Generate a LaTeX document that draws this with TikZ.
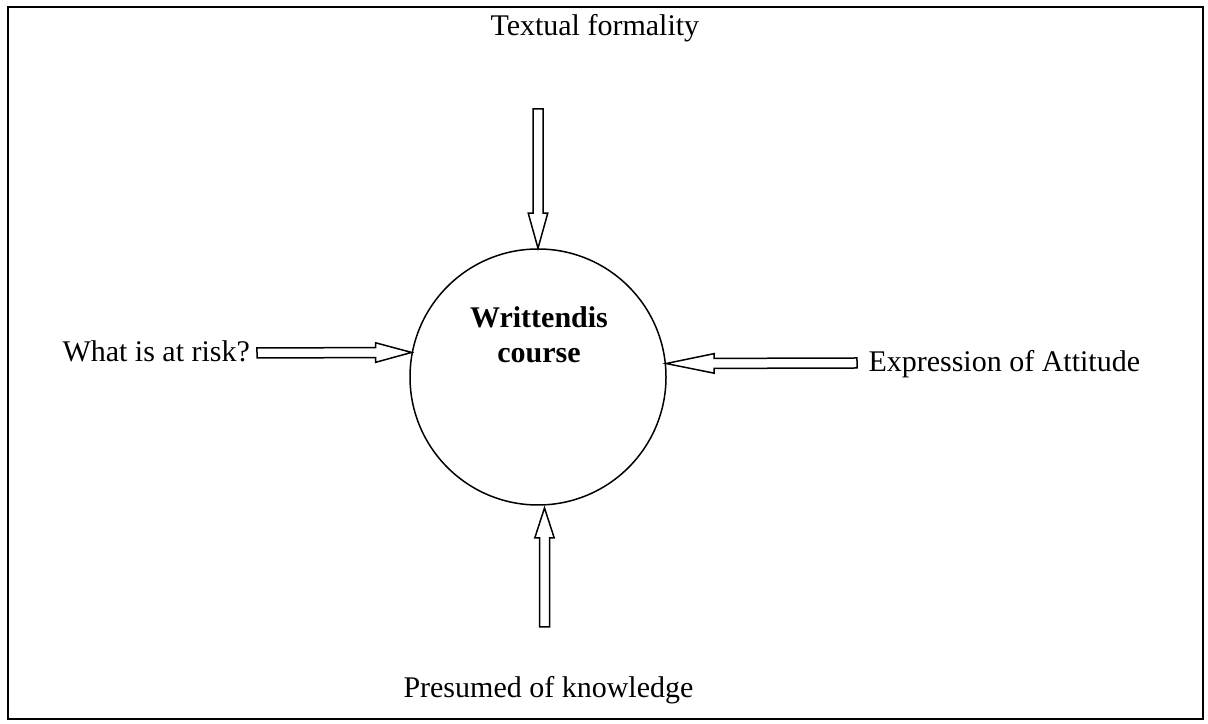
\documentclass[tikz,border=0pt]{standalone}
\usepackage{fontspec}
\setmainfont{Liberation Serif}
\usetikzlibrary{calc}
\tikzset{
	hollow/.style={draw, fill=white, line width=0.6pt, line join=miter},
	fatarrow/.style={to path={let \p1=(\tikztostart), \p2=(\tikztotarget), \n1={atan2(\y2-\y1,\x2-\x1)}, \n2={\n1+90}, \n3={\n1-90}, \n4={\n1+180} in
		($(\p1)+(\n2:2pt)$) -- ($(\p2)+(\n4:#1)+(\n2:2pt)$) -- ($(\p2)+(\n4:#1)+(\n2:3.9pt)$) -- (\p2)
		-- ($(\p2)+(\n4:#1)+(\n3:3.9pt)$) -- ($(\p2)+(\n4:#1)+(\n3:2pt)$) -- ($(\p1)+(\n3:2pt)$) -- cycle}},
	label/.style={inner sep=0pt, anchor=base west},
	title/.style={inner sep=0pt, anchor=base, font=\fontsize{12}{14}\selectfont\bfseries},
}
\begin{document}
\begin{tikzpicture}[x=0.4pt, y=-0.4pt, font=\fontsize{12}{14}\selectfont, line join=round]
	\useasboundingbox (0,0) rectangle (1208,724);
	\draw[line width=0.8pt, line join=miter] (8,7) rectangle (1203,719);
	\node[draw, circle, line width=0.6pt, minimum size=102.4pt, inner sep=0pt] (disc) at (538,377) {};
	\node[title] (wd1) at (539,328) {Writtendis};
	\node[title] (wd2) at (539,363) {course};
	\node[label] (tf) at (490,36) {Textual formality};
	\node[label] (risk) at (62,362) {What is at risk?};
	\node[label] (att) at (868,372) {Expression of Attitude};
	\node[label] (pk) at (403,698) {Presumed of knowledge};
	\coordinate (tftail) at (538,109);
	\coordinate (risktail) at (257,353);
	\coordinate (atttail) at (857,363);
	\coordinate (pktail) at (544.5,627);
	\coordinate (pktip) at (544.5,508);
	\draw[hollow] (tftail) to[fatarrow=14pt] (disc.north);
	\draw[hollow] (risktail) to[fatarrow=14.4pt] (disc.169);
	\draw[hollow] (atttail) to[fatarrow=19.2pt] (disc.6);
	\draw[hollow] (pktail) to[fatarrow=12pt] (pktip);
\end{tikzpicture}
\end{document}
